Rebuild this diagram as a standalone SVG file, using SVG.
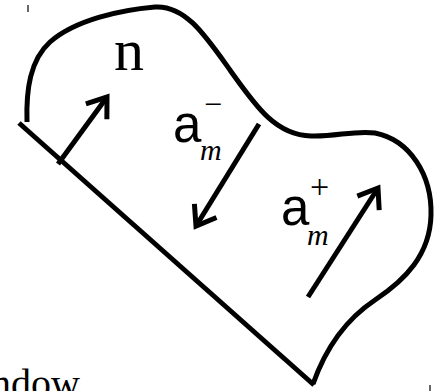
<svg xmlns="http://www.w3.org/2000/svg" width="442" height="391" viewBox="0 0 442 391">
  <style>
    .stroke { fill: none; stroke: #000; stroke-width: 5; stroke-linecap: butt; stroke-linejoin: miter; }
    .sans { font-family: "Liberation Sans", Arial, sans-serif; fill: #000; }
    .serif { font-family: "Liberation Serif", "Times New Roman", serif; fill: #000; }
    .ital { font-family: "Liberation Serif", "Times New Roman", serif; font-style: italic; fill: #000; }
    .tick { stroke: #333; stroke-width: 1.5; }
  </style>
  <defs>
    <marker id="head" markerUnits="userSpaceOnUse" markerWidth="40" markerHeight="40" viewBox="-25 -20 40 40" refX="0" refY="0" orient="auto">
      <path d="M-18,-13 L0,0 L-18,13" fill="none" stroke="#000" stroke-width="5"/>
    </marker>
  </defs>
  <rect width="442" height="391" fill="#fff"/>
  <g id="region">
    <path class="stroke" d="M27,122 C26,90 30,60 50,42 C75,20 120,10 155,7 C185,5 205,35 230,70 C255,105 275,135 311,136 C335,137 355,130 375,133 C410,140 432,175 431,215 C430,255 405,280 375,300 C345,320 325,350 313,384"/>
  </g>
  <g id="window-line">
    <path class="stroke" d="M19,123 L314,385"/>
  </g>
  <g id="connectors">
    <path class="stroke" d="M58,164 L107,97" marker-end="url(#head)"/>
    <path class="stroke" d="M259,124 L196,226" marker-end="url(#head)"/>
    <path class="stroke" d="M308,297 L378,188" marker-end="url(#head)"/>
  </g>
  <g id="label-n">
    <text class="serif" x="114" y="70" font-size="60">n</text>
  </g>
  <g id="label-am-minus">
    <text class="sans" x="173" y="142" font-size="51">a</text>
    <text class="ital" x="200" y="160" font-size="30">m</text>
    <text class="serif" x="204" y="115" font-size="32">−</text>
  </g>
  <g id="label-am-plus">
    <text class="sans" x="281" y="225" font-size="51">a</text>
    <text class="ital" x="307" y="245" font-size="30">m</text>
    <text class="serif" x="310" y="198" font-size="34">+</text>
  </g>
  <g id="label-window">
    <text class="serif" x="-9" y="397" font-size="40">ndow</text>
  </g>
  <g id="ticks">
    <line class="tick" x1="28" y1="5" x2="28" y2="12"/>
    <line class="tick" x1="430" y1="385" x2="430" y2="391"/>
  </g>
</svg>
